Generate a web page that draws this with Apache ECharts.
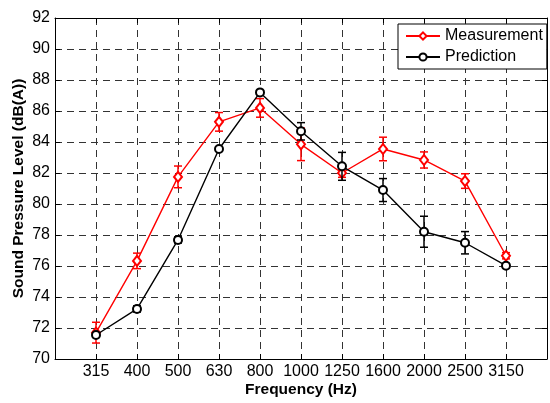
<!DOCTYPE html>
<html>
<head>
<meta charset="utf-8">
<script src="https://cdn.jsdelivr.net/npm/echarts@6/dist/echarts.min.js"></script>
<style>
html,body{margin:0;padding:0;background:#fff;}
#chart{width:550px;height:403px;}
</style>
</head>
<body>
<div id="chart"></div>
<script>
var categories = ['315','400','500','630','800','1000','1250','1600','2000','2500','3150'];
var measurement = [71.7, 76.33, 81.75, 85.3, 86.2, 83.85, 82.0, 83.55, 82.84, 81.48, 76.66];
var measurementErr = [0.67, 0.5, 0.7, 0.6, 0.6, 1.05, 0.28, 0.76, 0.52, 0.47, 0.2];
var prediction = [71.55, 73.23, 77.68, 83.55, 87.2, 84.69, 82.43, 80.9, 78.21, 77.5, 76.02];
var predictionErr = [0.15, 0.2, 0.2, 0.1, 0.1, 0.56, 0.9, 0.74, 1.0, 0.72, 0.15];
var yTicks = [70,72,74,76,78,80,82,84,86,88,90,92];

var FONT = 'Liberation Sans, Arial, sans-serif';

function lineData(vals){ return vals.map(function(v,i){ return [i+1, v]; }); }
function errData(vals, errs){ return vals.map(function(v,i){ return [i+1, v-errs[i], v+errs[i]]; }); }

function errRender(color){
  return function(params, api){
    var x = api.value(0);
    var lo = api.coord([x, api.value(1)]);
    var hi = api.coord([x, api.value(2)]);
    var hw = 4;
    var st = {stroke: color, lineWidth: 1.5};
    return {type:'group', children:[
      {type:'line', shape:{x1:lo[0], y1:lo[1], x2:hi[0], y2:hi[1]}, style:st},
      {type:'line', shape:{x1:lo[0]-hw, y1:lo[1], x2:lo[0]+hw, y2:lo[1]}, style:st},
      {type:'line', shape:{x1:hi[0]-hw, y1:hi[1], x2:hi[0]+hw, y2:hi[1]}, style:st}
    ]};
  };
}

var chart = echarts.init(document.getElementById('chart'), null, {renderer:'canvas'});
var axisLineStyle = {color:'#000', width:1};
var gridLine = {show:true, lineStyle:{color:'#333', type:[7,5], width:1}};

var option = {
  backgroundColor:'#fff',
  animation:false,
  grid:{left:55, top:18, right:2, bottom:44, containLabel:false},
  legend:{
    orient:'vertical', left:398, top:24,
    backgroundColor:'#fff', borderColor:'#000', borderWidth:1,
    padding:[4,4,4,7], itemGap:5, itemWidth:34, itemHeight:9,
    textStyle:{fontFamily:FONT, fontSize:16, color:'#000'},
    data:['Measurement','Prediction']
  },
  xAxis:[{
    type:'value', min:0, max:12, interval:1, position:'bottom',
    name:'Frequency (Hz)', nameLocation:'middle', nameGap:23, nameMoveOverlap:false,
    nameTextStyle:{fontFamily:FONT, fontSize:15.5, fontWeight:'bold', color:'#000'},
    axisLine:{show:true, onZero:false, lineStyle:axisLineStyle},
    axisTick:{show:true, inside:true, length:5, lineStyle:axisLineStyle},
    axisLabel:{fontFamily:FONT, fontSize:16, color:'#000', margin:5,
      formatter:function(v){ return (v>=1 && v<=categories.length) ? categories[v-1] : ''; }},
    splitLine:gridLine
  },{
    type:'value', min:0, max:12, interval:1, position:'top',
    axisLine:{show:true, onZero:false, lineStyle:axisLineStyle},
    axisTick:{show:true, inside:true, length:5, lineStyle:axisLineStyle},
    axisLabel:{show:false}, splitLine:{show:false}
  }],
  yAxis:[{
    type:'value', min:70, max:92, interval:2, position:'left',
    name:'Sound Pressure Level (dB(A))', nameLocation:'middle', nameGap:28, nameMoveOverlap:false,
    nameTextStyle:{fontFamily:FONT, fontSize:15.5, fontWeight:'bold', color:'#000'},
    axisLine:{show:true, onZero:false, lineStyle:axisLineStyle},
    axisTick:{show:true, inside:true, length:5, lineStyle:axisLineStyle},
    axisLabel:{fontFamily:FONT, fontSize:16, color:'#000', margin:5,
      formatter:function(v){ return yTicks.indexOf(v)>=0 ? String(v) : ''; }},
    splitLine:gridLine
  },{
    type:'value', min:70, max:92, interval:2, position:'right',
    axisLine:{show:true, onZero:false, lineStyle:axisLineStyle},
    axisTick:{show:true, inside:true, length:5, lineStyle:axisLineStyle},
    axisLabel:{show:false}, splitLine:{show:false}
  }],
  series:[
    {
      name:'Measurement', type:'line', data:lineData(measurement),
      symbol:'emptyDiamond', symbolSize:[8,10], showAllSymbol:true,
      lineStyle:{color:'#ff0000', width:1.4},
      itemStyle:{color:'#ff0000', borderColor:'#ff0000', borderWidth:1.2},
      z:3
    },
    {
      name:'MeasErr', type:'custom', data:errData(measurement, measurementErr),
      renderItem:errRender('#ff0000'), encode:{x:0, y:[1,2]}, z:3, silent:true
    },
    {
      name:'Prediction', type:'line', data:lineData(prediction),
      symbol:'emptyCircle', symbolSize:8, showAllSymbol:true,
      lineStyle:{color:'#000', width:1.4},
      itemStyle:{color:'#000', borderColor:'#000', borderWidth:1.2},
      z:4
    },
    {
      name:'PredErr', type:'custom', data:errData(prediction, predictionErr),
      renderItem:errRender('#000'), encode:{x:0, y:[1,2]}, z:4, silent:true
    }
  ]
};
chart.setOption(option);
</script>
</body>
</html>
